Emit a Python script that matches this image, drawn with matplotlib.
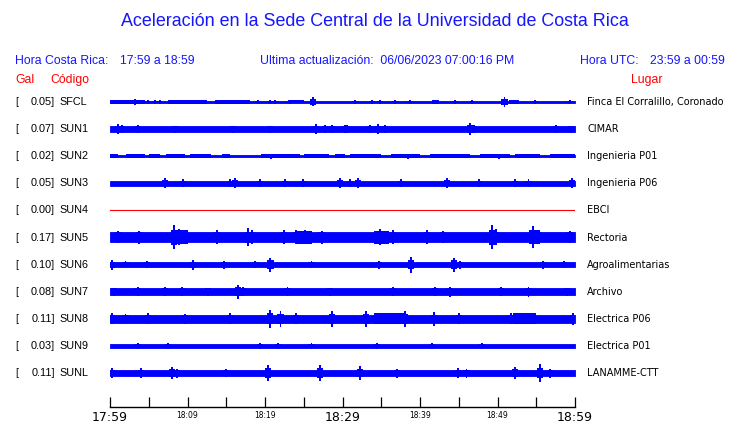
import matplotlib
matplotlib.use("Agg")
import matplotlib.pyplot as plt

# station info
codes = ["SFCL", "SUN1", "SUN2", "SUN3", "SUN4", "SUN5", "SUN6", "SUN7", "SUN8", "SUN9", "SUNL"]
gal = [0.05, 0.07, 0.02, 0.05, 0.00, 0.17, 0.10, 0.08, 0.11, 0.03, 0.11]
places = ["Finca El Corralillo, Coronado", "CIMAR", "Ingenieria P01", "Ingenieria P06", "EBCI",
          "Rectoria", "Agroalimentarias", "Archivo", "Electrica P06", "Electrica P01", "LANAMME-CTT"]

# trace envelope (half amplitude, pixel-like counts)
base = [0.6, 3.0, 0.7, 2.6, 0.0, 5.0, 2.8, 3.4, 4.2, 2.3, 3.0]

# segments: (start minute, end minute, half amplitude)
segments = {
    "SFCL": [(0, 4.5, 2.0), (7.5, 12.5, 2.0), (13.5, 18, 2.0), (23, 25, 1.5), (41.5, 42.5, 2.0), (51.5, 52.8, 2.0)],
    "SUN2": [(0, 1, 2), (2, 4.5, 2), (5, 6.5, 2), (7.2, 9.7, 2), (10.3, 13, 2), (14.5, 15.5, 2),
             (19.5, 24.5, 2), (25, 28.3, 2), (29, 30.3, 2), (31, 35, 2), (36.3, 40, 2),
             (41.3, 46.5, 2), (47.7, 51.6, 2), (52.3, 55.5, 2), (56.8, 60, 2)],
    "SUN5": [(8, 10, 7), (24, 26, 6.5), (34, 36, 6.5), (54, 55.5, 7)],
    "SUN8": [(34, 38, 5.5), (52, 55, 5.5)],
}

# spikes: (minute, half amplitude)
spikes = {
    "SFCL": [(3.2, 3), (4.9, 2), (5.8, 2), (6.5, 2), (19.1, 2), (20.6, 2), (21.3, 2), (23.2, 2),
             (26.2, 4.5), (31.6, 2), (33.8, 2), (34.8, 2), (36.8, 2), (38.7, 2), (44.5, 2),
             (46.7, 2), (50.9, 5), (54.8, 2), (59.4, 2)],
    "SUN1": [(1.0, 5), (1.5, 4), (3.6, 4), (8.4, 3.5), (15.9, 3.5), (20.6, 3.5), (26.6, 5), (27.7, 4),
             (28.6, 4), (30.3, 4), (30.6, 4), (33.6, 4), (34.6, 5), (35.5, 4), (46.4, 6),
             (47.0, 4), (57.6, 4), (59.5, 3.5)],
    "SUN2": [(20.8, 2.5), (38.4, 2.5), (50.2, 2.5)],
    "SUN3": [(7.1, 5), (9.4, 4), (15.5, 4), (16.1, 5), (19.4, 4), (22.6, 4), (24.9, 4), (29.7, 5),
             (31.0, 4), (32.0, 5), (37.5, 4), (43.5, 5), (47.6, 4), (52.3, 4), (54.0, 4), (59.6, 5)],
    "SUN5": [(1.0, 6), (3.8, 6.5), (8.3, 12), (8.9, 8), (9.6, 7), (13.8, 7), (17.8, 9), (18.3, 7),
             (22.4, 7), (24.0, 7), (25.2, 7), (27.3, 6.5), (34.8, 8), (36.5, 7), (40.9, 7), (43.0, 6),
             (49.3, 12), (49.8, 8), (54.6, 11), (55.2, 7), (59.4, 6)],
    "SUN6": [(0.3, 5), (2.0, 3.5), (4.8, 3.5), (10.7, 5), (14.7, 4), (18.7, 3.5), (20.7, 7), (26.0, 3.5),
             (34.7, 4), (38.8, 8), (44.4, 7), (45.2, 4), (55.9, 4), (58.6, 3.5)],
    "SUN7": [(0.5, 4), (3.6, 4.5), (7.1, 4.5), (9.3, 4.5), (12.6, 4), (16.5, 7), (17.2, 4.5), (22.9, 4.5),
             (28.4, 4), (36.5, 4.5), (41.9, 4.5), (43.9, 5), (50.5, 4.5), (54.0, 5), (59.0, 4)],
    "SUN8": [(0.3, 5.5), (2.0, 5), (4.9, 5.5), (9.7, 5), (15.5, 5.5), (20.6, 9), (22.0, 8), (24.0, 5.5),
             (28.6, 8), (33.0, 8), (38.1, 8), (41.8, 7), (45.0, 5.5), (51.8, 5.5), (59.7, 6)],
    "SUN9": [(3.6, 3), (7.5, 3), (19.4, 3), (21.7, 3), (26.0, 3), (34.4, 3), (41.5, 3), (48.0, 3)],
    "SUNL": [(0.3, 5), (4.0, 5), (8.0, 6), (8.6, 4.5), (15.0, 4), (20.4, 8), (27.1, 8), (32.3, 7),
             (37.0, 4.5), (44.9, 5), (46.0, 4.5), (52.3, 6), (55.5, 9), (56.8, 4.5)],
}

minutes = [0, 5, 10, 15, 20, 25, 30, 35, 40, 45, 50, 55, 60]
tick_labels = ["17:59", "", "18:09", "", "18:19", "", "18:29", "", "18:39", "", "18:49", "", "18:59"]
big_ticks = ["17:59", "18:29", "18:59"]

W, H = 740, 423
blue = "#0000ff"
head = "#1515ff"
fig = plt.figure(figsize=(W / 100, H / 100), dpi=100)

def fx(x):
    return x / W

def fy(y):
    return 1 - y / H

row_px = 27.1
ax = fig.add_axes([fx(110), fy(407), (575 - 110) / W, (407 - 88) / H])
ax.set_xlim(0, 60)
ax.set_ylim(-(407 - 102) / row_px, (102 - 88) / row_px)
scale = 1 / row_px

for i, code in enumerate(codes):
    y0 = -i
    if base[i] == 0:
        ax.plot([0, 60], [y0, y0], color="red", lw=0.8)
        continue
    b = base[i] * scale
    ax.fill_between([0, 60], y0 - b, y0 + b, color=blue, lw=0.6, edgecolor=blue)
    for s, e, a in segments.get(code, []):
        ax.fill_between([s, e], y0 - a * scale, y0 + a * scale, color=blue, lw=0)
    for m, a in spikes.get(code, []):
        # burst: narrow peak plus a wider shoulder
        ax.bar(m, 2 * a * scale, bottom=y0 - a * scale, width=0.25, color=blue, lw=0)
        sh = max(base[i], 0.6 * a)
        ax.bar(m, 2 * sh * scale, bottom=y0 - sh * scale, width=0.8, color=blue, lw=0)

for s in ["top", "left", "right"]:
    ax.spines[s].set_visible(False)
ax.spines["bottom"].set_linewidth(1.0)
ax.set_yticks([])
ax.set_xticks(minutes)
ax.set_xticklabels(tick_labels, family="DejaVu Sans")
ax.tick_params(axis="x", direction="in", length=7.2, width=0.9, pad=3)
for lab in ax.get_xticklabels():
    if lab.get_text() in big_ticks:
        lab.set_fontsize(9)
    else:
        lab.set_fontsize(5.5)

sans = "Liberation Sans"
fs = 8.8
fig.text(fx(375), fy(22), "Aceleración en la Sede Central de la Universidad de Costa Rica",
         ha="center", va="center", fontsize=12.9, color=head, family=sans)
fig.text(fx(15), fy(61), "Hora Costa Rica:", ha="left", va="center", fontsize=fs, color=head, family=sans)
fig.text(fx(120), fy(61), "17:59 a 18:59", ha="left", va="center", fontsize=fs, color=head, family=sans)
fig.text(fx(260), fy(61), "Ultima actualización:  06/06/2023 07:00:16 PM", ha="left", va="center",
         fontsize=fs, color=head, family=sans)
fig.text(fx(580), fy(61), "Hora UTC:", ha="left", va="center", fontsize=fs, color=head, family=sans)
fig.text(fx(725), fy(61), "23:59 a 00:59", ha="right", va="center", fontsize=fs, color=head, family=sans)
fig.text(fx(15), fy(80), "Gal", ha="left", va="center", fontsize=fs, color="red", family=sans)
fig.text(fx(50), fy(80), "Código", ha="left", va="center", fontsize=fs, color="red", family=sans)
fig.text(fx(662), fy(80), "Lugar", ha="right", va="center", fontsize=fs, color="red", family=sans)

for i, code in enumerate(codes):
    yp = 102 + row_px * i
    fig.text(fx(15), fy(yp), "[", ha="left", va="center", fontsize=7.8, family=sans)
    fig.text(fx(55), fy(yp), "%.2f]" % gal[i], ha="right", va="center", fontsize=7.8, family=sans)
    fig.text(fx(59), fy(yp), code, ha="left", va="center", fontsize=7.8, family=sans)
    fig.text(fx(587), fy(yp), places[i], ha="left", va="center", fontsize=7, family="DejaVu Sans")

fig.savefig("out.png", dpi=100)
